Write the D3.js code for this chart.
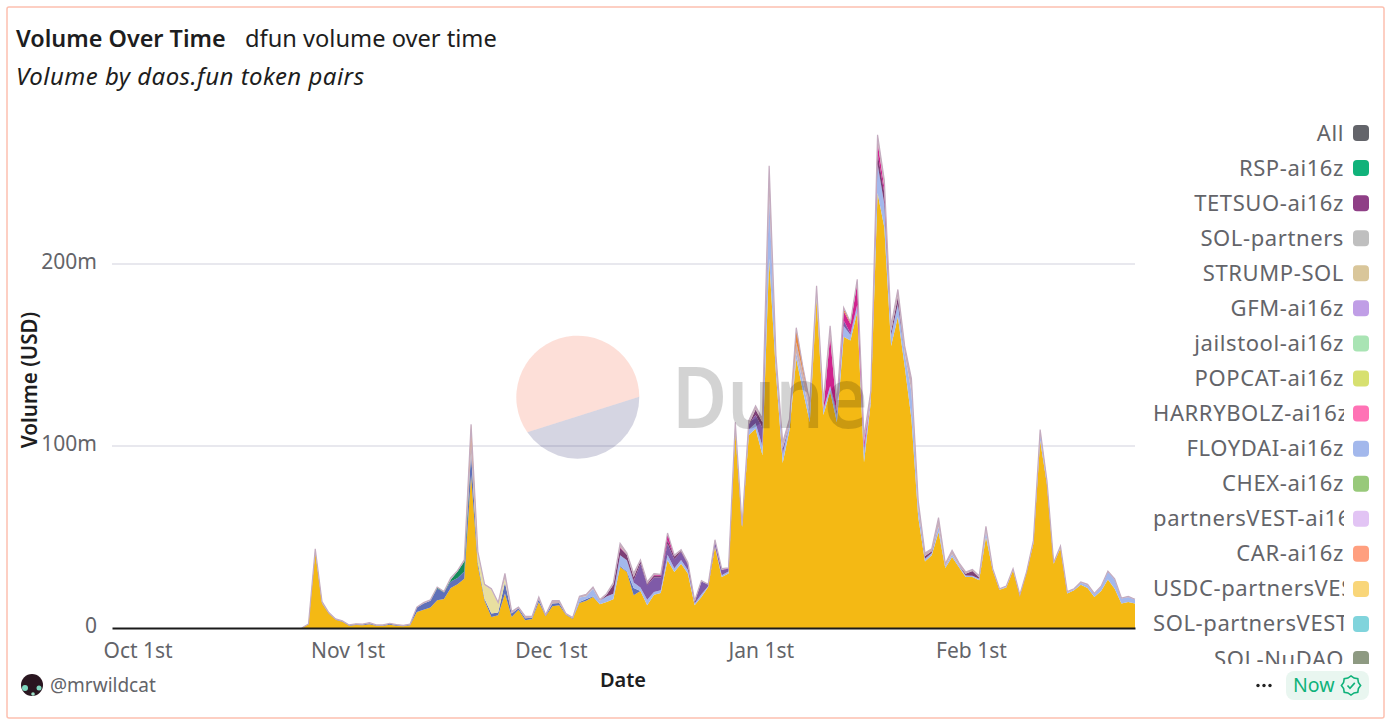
<!DOCTYPE html>
<html>
<head>
<meta charset="utf-8">
<script src="https://cdn.jsdelivr.net/npm/d3@7"></script>
<style>
  body { margin: 0; background: #fff; }
  text { font-family: "Noto Sans", sans-serif; }
</style>
</head>
<body>
<div id="chart"></div>
<script>
// volumes in millions of USD, one value per day, day 0 = Sep 27 2024
const firstDay = new Date(2024, 8, 27);
const lastDay = new Date(2025, 1, 25);

const yellowValues = [
  0,2,42,13.5,8,4.6,3.5,1.3,1.7,1.5,
  2,1.2,1.2,1.8,1.3,1,1.5,8.8,10,11.2,
  15.2,16,22,24,27,84,34,15,6,7,
  19,6,10,4.2,5,14.3,6.4,12,12.5,7.3,
  5,13.7,15,17,13,14.3,15.8,33.5,30.8,18,
  20.3,12.5,18.3,19.2,37.2,30.8,35.3,29.9,12.5,17,
  22.5,44.5,28,30,108,55.5,106,109.5,95,203,
  140,90.6,108.8,148,130,113,181,117,130,113,
  160,158,173.6,91,124,239,220,155,171,144,
  115,61,36.6,40,52.7,33,39,33.5,28,28,
  26.2,50,31.7,21,22.2,31.7,18,30.8,46.3,103,
  79,35.3,44,19,20.7,23.8,22,17,20.3,26.7,
  21.6,13.4,14.3,13.4
];
const darkBlueValues = [
  0,0,0,.3,.2,.2,.2,.2,.3,.4,
  .6,.3,.3,.5,.4,.3,.4,2.4,3.5,3.8,
  6.5,3.5,3.5,3.5,4,12,2,1,2,1.5,
  6,2,.8,1.2,.6,1.5,.4,1.5,1.2,.3,
  .4,.6,1,.5,0,0,0,.5,.4,4
];
// FLOYDAI starts on day 69
const floydValues = [
  2.5,1.5,4,2,3,3,6,6,3,
  2,3,1.5,1.5,3,2,2,2,1,1.5,
  .5,.5,1,1,2,.4,3,3,5,32,
  5,5,3,3,5,5,2,3,3,4,
  6,3,4,6,2,16,13,6,7,7,
  15,5,1.5,1.2,3,1,1.5,1,.8,.7,
  .8,3,.5,.3,.4,.5,.2,.1,1,4,
  1.5,.4,.6,.7,.6,1,1.5,1.6,2.3,4.2,
  5,2.8,2.8,2.2
];
// day 54 on
const khakiValues = [5,7.5,13,5,2];
// day 77 on
const purpleValues = [
  1,13,8,8,7,6,5,4.5,3,1,7,
  1,3,3,1.5,1,0,3,4.5,10,2,
  2,3,0,0,0,0,0,0,0,2,
  3,1,0,2
];
// day 73 on
const tetsuoValues = [
  1,5,4,3,2,
  1.5,.8,1,1,2,1.5,.7,.5,0,0,
  0,0,0,0,0,0,0,3,3,0,
  0,0,0,0,0,0,0,0,0,0,0,0,0,0,0,
  6,6,2,4,0,0,0,1.5,1,0,0,0,0,1,2.6,.8
];
// day 75 on
const magentaValues = [
  .5,0,0,0,0,.5,.5,4,0,0,
  0,0,0,0,0,0,.5,0,0,0,
  0,0,0,0,0,0,0,0,0,0,
  0,27,0,5,5,12,3,0,6,3
];
// day 53 on
const carValues = [
  6,0,0,0,0,0,0,0,0,0,0,0,0,0,0,0,
  0,0,0,0,0,0,0,0,0,0,0,0,0,0,0,0,
  0,0,0,0,0,0,0,0,0,0,0,0,0,0,0,0,
  8,3,0,0,0,0,0,2,1
];
// day 48 on
const rspValues = [.5,.3,1,3.5,5.5];
// the hairline of small pairs on top of the stack, day 28 on
const otherValues = [
  0,.2,1.5,.7,.3,.2,.3,.2,.3,.3,
  .4,.2,.2,.3,.2,.2,.3,.3,.5,.5,
  .3,.2,1,.5,1,10,1,.5,.6,.5,
  3,1,.7,1,.8,1.2,.5,1.5,1.3,.3,
  .3,.6,1,1,.6,.6,1,2,1,2,
  .7,1,.6,.3,0,.7,.5,.6,.5,.5,
  0,.5,.6,0,2,.5,2,2,2,17,
  3,3.4,3,6,5,6,5,4,6,5,
  0,0,2,3,4,4,4,3,4,4,
  7,4,1.6,1.4,4.9,1.3,2.2,1.5,1,.9,
  .8,2.9,.4,.3,.4,.4,.1,.1,.7,2,
  .5,.3,.4,.3,.3,.5,.5,.4,.4,.4,
  .4,.3,.3,.2
];

const layers = [
  { key: "yellow", start: 28, values: yellowValues, color: "#f4b914" },
  { key: "darkBlue", start: 28, values: darkBlueValues, color: "#5f70b8" },
  { key: "FLOYDAI-ai16z", start: 69, values: floydValues, color: "#a3b8ec" },
  { key: "khaki", start: 54, values: khakiValues, color: "#e8dfa0" },
  { key: "purple", start: 77, values: purpleValues, color: "#7f5aa8" },
  { key: "TETSUO-ai16z", start: 73, values: tetsuoValues, color: "#7d3f76" },
  { key: "magenta", start: 75, values: magentaValues, color: "#d0238f" },
  { key: "RSP-ai16z", start: 48, values: rspValues, color: "#158a5a" },
  { key: "other", start: 28, values: otherValues, color: "#c9b0b8" },
  { key: "CAR-ai16z", start: 53, values: carValues, color: "#e8873c" }
];

const legendNames = ["All","RSP-ai16z","TETSUO-ai16z","SOL-partners","STRUMP-SOL","GFM-ai16z","jailstool-ai16z","POPCAT-ai16z","HARRYBOLZ-ai16z","FLOYDAI-ai16z","CHEX-ai16z","partnersVEST-ai16z","CAR-ai16z","USDC-partnersVEST","SOL-partnersVEST","SOL-NuDAO"];
const legendColors = ["#63646a","#10b27a","#8f3f86","#bfbfbf","#d9c69a","#c09ee6","#a9e4b4","#d7e070","#ff72b5","#a3b8ec","#98c97a","#e2c4f4","#ff9f7f","#f9d67a","#80d4dc","#8e9a82"];

const xTickDates = [new Date(2024,9,1), new Date(2024,10,1), new Date(2024,11,1), new Date(2025,0,1), new Date(2025,1,1)];
const xTickLabels = ["Oct 1st","Nov 1st","Dec 1st","Jan 1st","Feb 1st"];
const yTicks = [0,100,200];

const w = 1392, h = 726;
const grey = "#636469", ink = "#1d1d20";

const svg = d3.select("#chart").append("svg").attr("width", w).attr("height", h).style("display","block");

svg.append("rect").attr("x",7).attr("y",7).attr("width",1377).attr("height",711).attr("rx",2)
  .attr("fill","#fff").attr("stroke","#fdc0b0").attr("stroke-width",1.5);

const title = (x, y, str, size, weight, style) => svg.append("text")
  .attr("x",x).attr("y",y).attr("font-size",size).attr("font-weight",weight)
  .attr("font-style",style || "normal").attr("fill",ink).text(str);
title(16, 47, "Volume Over Time", 23.4, 600);
title(245, 47, "dfun volume over time", 23.65, 400);
title(16, 85, "Volume by daos.fun token pairs", 24, 400, "italic")
  .attr("textLength",348).attr("lengthAdjust","spacing");

const x = d3.scaleTime().domain([firstDay, lastDay]).range([112, 1135]);
const y = d3.scaleLinear().domain([0, 280]).range([628, 118.4]);

// gridlines
svg.append("g").selectAll("line").data(yTicks.slice(1)).enter().append("line")
  .attr("x1",112).attr("x2",1135).attr("y1",d=>y(d)).attr("y2",d=>y(d))
  .attr("stroke","#e8e8ee").attr("stroke-width",2);

// stacked areas
const days = d3.range(28, 152);
const table = days.map(day => {
  const row = { date: d3.timeDay.offset(firstDay, day) };
  layers.forEach(l => { row[l.key] = l.values[day - l.start] || 0; });
  return row;
});
const stacked = d3.stack().keys(layers.map(l => l.key))(table);
const area = d3.area().x(d => x(d.data.date)).y0(d => y(d[0])).y1(d => y(d[1]));
const topLine = d3.line().x(d => x(d.data.date)).y(d => y(d[1]));
svg.append("g").selectAll("path").data(stacked).enter().append("path")
  .attr("d", area)
  .attr("fill", (d,i) => layers[i].color);
// pinkish grey edge along the top of the whole stack
svg.append("path").datum(stacked[stacked.length - 1]).attr("d", topLine)
  .attr("fill","none").attr("stroke","#c4acc0").attr("stroke-width",1.2);

// axes
const xAxis = d3.axisBottom(x).tickValues(xTickDates).tickSize(0).tickPadding(15)
  .tickFormat((d,i) => xTickLabels[i]);
const xAxisLine = svg.append("g").attr("transform","translate(0,628)").call(xAxis);
xAxisLine.select(".domain").attr("stroke","#1a1a1a").attr("stroke-width",2);
xAxisLine.selectAll("text").attr("font-size",21).attr("fill",grey).attr("font-family",null).attr("dx",-1.5);

const yAxis = d3.axisLeft(y).tickValues(yTicks).tickSize(0).tickPadding(15)
  .tickFormat(d => d ? d + "m" : "0");
const yAxisLine = svg.append("g").attr("transform","translate(112,0)").call(yAxis);
yAxisLine.select(".domain").remove();
yAxisLine.selectAll("text").attr("font-size",21).attr("fill",grey).attr("font-family",null).attr("dy","0.2em");

svg.append("text").attr("x",623).attr("y",687).attr("text-anchor","middle")
  .attr("font-size",20).attr("font-weight",600).attr("fill",ink).text("Date");
svg.append("text").attr("transform","translate(37,380) rotate(-90)").attr("text-anchor","middle")
  .attr("font-size",20.6).attr("font-weight",600).attr("fill",ink).text("Volume (USD)");

// legend, scrolled so the list is cut at the bottom and long names at the right
const defs = svg.append("defs");
defs.append("clipPath").attr("id","legendText").append("rect")
  .attr("x",1153).attr("y",115).attr("width",191).attr("height",549);
defs.append("clipPath").attr("id","legendSwatch").append("rect")
  .attr("x",1350).attr("y",115).attr("width",22).attr("height",549);
const legendY = d3.scalePoint().domain(legendNames).range([133, 133 + 35.07 * 15]);
const legendText = svg.append("g").attr("clip-path","url(#legendText)");
const legendSwatch = svg.append("g").attr("clip-path","url(#legendSwatch)");
legendNames.forEach((name,i) => {
  const t = legendText.append("text").attr("x",1344).attr("y",legendY(name)+7.5)
    .attr("text-anchor","end").attr("font-size",22).attr("letter-spacing",.6).attr("fill",grey).text(name);
  if (t.node().getComputedTextLength() > 191) t.attr("x",1153).attr("text-anchor","start");
  legendSwatch.append("rect").attr("x",1353).attr("y",legendY(name)-8)
    .attr("width",16).attr("height",16).attr("rx",4).attr("fill",legendColors[i]);
});

// Dune watermark, sits over the chart
const wm = svg.append("g");
wm.append("path").attr("d","M527.3 432.3 A61.5 61.5 0 1 1 639.3 396.7 Z").attr("fill","#f4603e").attr("opacity",.2);
wm.append("path").attr("d","M527.3 432.3 A61.5 61.5 0 0 0 639.3 396.7 Z").attr("fill","#2c2c6e").attr("opacity",.2);
wm.append("text").attr("x",672).attr("y",428).attr("font-size",85).attr("font-weight",600)
  .attr("textLength",196).attr("lengthAdjust","spacingAndGlyphs")
  .attr("fill","#000").attr("opacity",.17).text("Dune");

// footer
const avatar = svg.append("g").attr("transform","translate(32,685)");
avatar.append("circle").attr("r",11).attr("fill","#2a1620");
avatar.append("circle").attr("cx",-7).attr("cy",3).attr("r",3).attr("fill","#7fd8c0");
avatar.append("circle").attr("cx",7).attr("cy",3).attr("r",2.5).attr("fill","#7fd8c0");
avatar.append("circle").attr("cx",1).attr("cy",9).attr("r",1.8).attr("fill","#9fe0c8");
svg.append("text").attr("x",50).attr("y",692).attr("font-size",19).attr("fill",grey).text("@mrwildcat");

svg.append("g").selectAll("circle").data([1258,1264,1270]).enter().append("circle")
  .attr("cx",d=>d).attr("cy",685.5).attr("r",1.7).attr("fill","#222");
svg.append("rect").attr("x",1286).attr("y",671).attr("width",83).attr("height",29).attr("rx",8).attr("fill","#e9f6f0");
svg.append("text").attr("x",1293).attr("y",692).attr("font-size",19.5).attr("fill","#10b27a").text("Now");
const badge = svg.append("g").attr("transform","translate(1351,685.5)").attr("fill","none").attr("stroke","#10b27a").attr("stroke-width",1.6);
badge.append("path").attr("d", d3.lineRadial().curve(d3.curveLinearClosed)(d3.range(16).map(i => [i*Math.PI/8, i%2 ? 8 : 9.6])));
badge.append("path").attr("d","M-3.5 0 L-1 2.8 L3.8 -2.6");
</script>
</body>
</html>
